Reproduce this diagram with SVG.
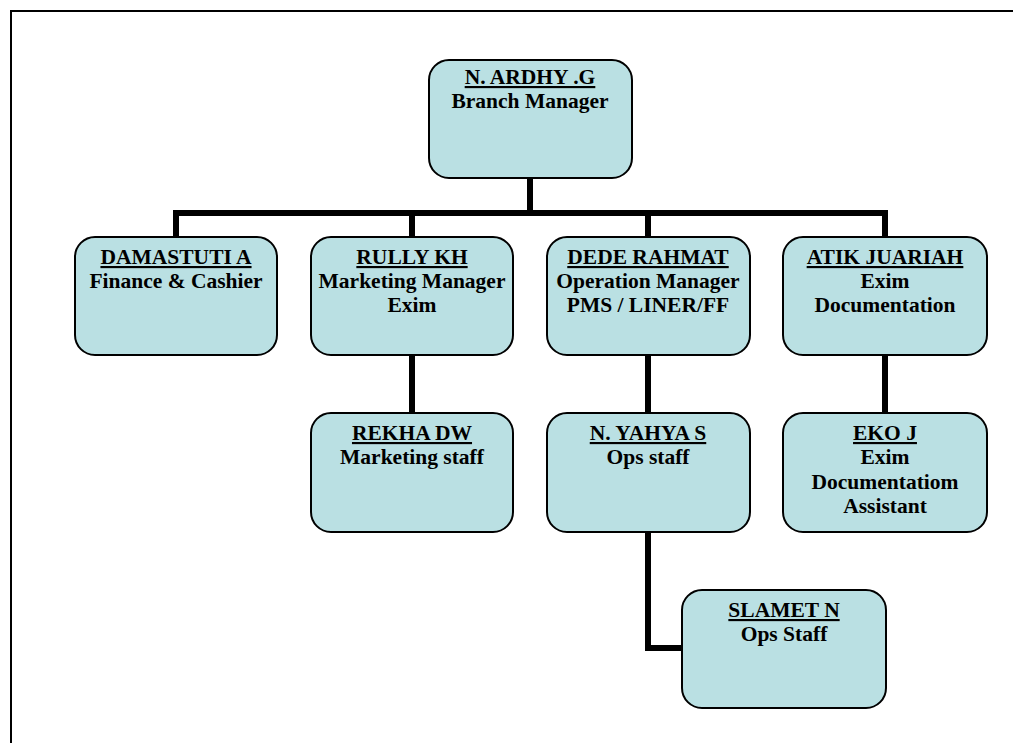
<svg xmlns="http://www.w3.org/2000/svg" width="1013" height="743" viewBox="0 0 1013 743">
<style>
.box{fill:#BAE0E3;stroke:#000;stroke-width:2}
.t{font-family:"Liberation Serif","Times New Roman",serif;font-weight:bold;font-size:21.5px;fill:#000;text-anchor:middle}
.u{text-decoration:underline}
.c{fill:none;stroke:#000;stroke-width:6}
</style>
<rect width="1013" height="743" fill="#fff"/>
<path d="M11,743 V11 H1013" fill="none" stroke="#000" stroke-width="2"/>
<g id="connectors">
<path class="c" d="M530,177 V213"/>
<path class="c" d="M176,237 V213 H885 V237"/>
<path class="c" d="M412,213 V237"/>
<path class="c" d="M648,213 V237"/>
<path class="c" d="M412,355 V413"/>
<path class="c" d="M648,355 V413"/>
<path class="c" d="M885,355 V413"/>
<path class="c" d="M648,532 V648 H682"/>
</g>
<g id="n-ardhy"><rect class="box" x="429" y="60" width="203" height="118" rx="20"/>
<text class="t u" x="530" y="84">N. ARDHY .G</text><text class="t" x="530" y="108">Branch Manager</text></g>
<g id="damastuti"><rect class="box" x="75" y="237" width="202" height="118" rx="20"/>
<text class="t u" x="176" y="264">DAMASTUTI A</text><text class="t" x="176" y="288">Finance &amp; Cashier</text></g>
<g id="rully"><rect class="box" x="311" y="237" width="202" height="118" rx="20"/>
<text class="t u" x="412" y="264">RULLY KH</text><text class="t" x="412" y="288">Marketing Manager</text><text class="t" x="412" y="312">Exim</text></g>
<g id="dede"><rect class="box" x="547" y="237" width="203" height="118" rx="20"/>
<text class="t u" x="648" y="264">DEDE RAHMAT</text><text class="t" x="648" y="288">Operation Manager</text><text class="t" x="648" y="312">PMS / LINER/FF</text></g>
<g id="atik"><rect class="box" x="783" y="237" width="204" height="118" rx="20"/>
<text class="t u" x="885" y="264">ATIK JUARIAH</text><text class="t" x="885" y="288">Exim</text><text class="t" x="885" y="312">Documentation</text></g>
<g id="rekha"><rect class="box" x="311" y="413" width="202" height="119" rx="20"/>
<text class="t u" x="412" y="440">REKHA DW</text><text class="t" x="412" y="464">Marketing staff</text></g>
<g id="yahya"><rect class="box" x="547" y="413" width="203" height="119" rx="20"/>
<text class="t u" x="648" y="440">N. YAHYA S</text><text class="t" x="648" y="464">Ops staff</text></g>
<g id="eko"><rect class="box" x="783" y="413" width="204" height="119" rx="20"/>
<text class="t u" x="885" y="440">EKO J</text><text class="t" x="885" y="464">Exim</text><text class="t" x="885" y="489">Documentatiom</text><text class="t" x="885" y="513">Assistant</text></g>
<g id="slamet"><rect class="box" x="682" y="590" width="204" height="118" rx="20"/>
<text class="t u" x="784" y="617">SLAMET N</text><text class="t" x="784" y="641">Ops Staff</text></g>
</svg>
